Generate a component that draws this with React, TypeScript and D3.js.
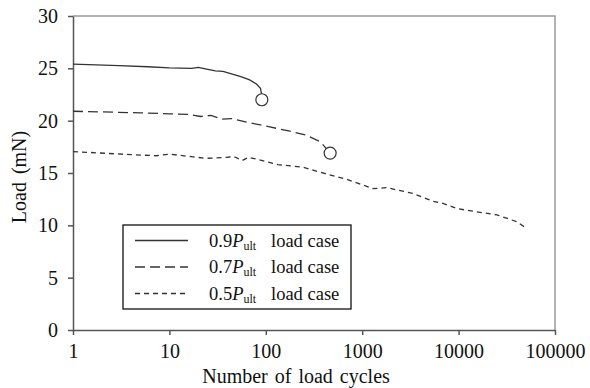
import React, { useEffect, useRef } from "react";
import * as d3 from "d3";

// Load vs. number of cycles for three load cases
const series90: [number, number][] = [
  [1, 25.4], [3, 25.25], [6, 25.15], [10, 25.05], [17, 25.0], [20, 25.1],
  [25, 24.9], [30, 24.75], [36, 24.7], [45, 24.45], [55, 24.2], [68, 23.9],
  [80, 23.5], [88, 23.1], [90, 22.6], [91, 22.0],
];
const series70: [number, number][] = [
  [1, 20.9], [5, 20.75], [10, 20.65], [16, 20.6], [21, 20.4], [27, 20.5],
  [35, 20.15], [44, 20.2], [68, 19.8], [110, 19.4], [178, 19.0], [265, 18.6],
  [365, 18.0], [410, 17.5], [465, 16.9],
];
const series50: [number, number][] = [
  [1, 17.05], [4, 16.75], [7.4, 16.65], [10, 16.8], [24, 16.4], [40, 16.5],
  [46, 16.6], [57, 16.2], [66, 16.5], [101, 16.1], [134, 15.8], [245, 15.55],
  [340, 15.15], [690, 14.4], [1300, 13.5], [1800, 13.6], [3350, 13.05],
  [5400, 12.3], [6900, 12.1], [9600, 11.6], [13000, 11.4], [25000, 11.0],
  [40000, 10.35], [50000, 9.75],
];
const failurePoints: [number, number][] = [[91, 22.0], [465, 16.9]];

const xTicks = [1, 10, 100, 1000, 10000, 100000];
const yTicks = [0, 5, 10, 15, 20, 25, 30];
const legendLabels = ["0.9", "0.7", "0.5"];

const W = 590;
const H = 388;
const M = { left: 73, right: 35, top: 16, bottom: 58 };
const FONT = "'Liberation Serif', 'Times New Roman', Times, serif";

export default function App() {
  const ref = useRef<SVGSVGElement>(null);

  useEffect(() => {
    const svg = d3.select(ref.current);
    svg.selectAll("*").remove();

    const x = d3.scaleLog().domain([1, 100000]).range([M.left, W - M.right]);
    const y = d3.scaleLinear().domain([0, 30]).range([H - M.bottom, M.top]);
    const ink = "#333";

    // frame: top and right in gray
    svg.append("path")
      .attr("d", `M${x(1)},${y(30)}H${x(100000)}V${y(0)}`)
      .attr("fill", "none").attr("stroke", "#999").attr("stroke-width", 1.5);

    // y axis
    const yAxis = svg.append("g").attr("transform", `translate(${x(1)},0)`)
      .call(d3.axisLeft(y).tickValues(yTicks).tickSize(5).tickSizeOuter(0).tickPadding(10));
    // x axis
    const xAxis = svg.append("g").attr("transform", `translate(0,${y(0)})`)
      .call(d3.axisBottom(x).tickValues(xTicks).tickFormat(d3.format("d")).tickSize(5).tickSizeOuter(0).tickPadding(9));
    [yAxis, xAxis].forEach((g) => {
      g.attr("font-family", FONT).attr("font-size", 20);
      g.select(".domain").attr("stroke", "#555").attr("stroke-width", 1.5);
      g.selectAll(".tick line").attr("stroke", "#555").attr("stroke-width", 1.5);
      g.selectAll(".tick text").attr("fill", "#111");
    });

    // axis titles
    svg.append("text")
      .attr("x", 296).attr("y", 383)
      .attr("text-anchor", "middle").attr("font-family", FONT).attr("font-size", 20)
      .attr("word-spacing", 2).attr("fill", "#111")
      .text("Number of load cycles");
    svg.append("text")
      .attr("transform", `translate(26,177) rotate(-90)`)
      .attr("text-anchor", "middle").attr("font-family", FONT).attr("font-size", 20)
      .attr("word-spacing", 3).attr("fill", "#111")
      .text("Load (mN)");

    const line = d3.line<[number, number]>().x((d) => x(d[0])).y((d) => y(d[1]));
    const dashes = [null, "10,5", "5,4"];
    [series90, series70, series50].forEach((s, i) => {
      svg.append("path").datum(s).attr("d", line)
        .attr("fill", "none").attr("stroke", ink).attr("stroke-width", 1.3)
        .attr("stroke-dasharray", dashes[i]);
    });

    svg.selectAll("circle.fail").data(failurePoints).join("circle")
      .attr("class", "fail")
      .attr("cx", (d) => x(d[0])).attr("cy", (d) => y(d[1])).attr("r", 6)
      .attr("fill", "white").attr("stroke", ink).attr("stroke-width", 1.2);

    // legend
    const lg = svg.append("g").attr("font-family", FONT).attr("fill", "#111");
    lg.append("rect").attr("x", 123).attr("y", 225).attr("width", 228).attr("height", 84)
      .attr("fill", "white").attr("stroke", "#111").attr("stroke-width", 1.3);
    legendLabels.forEach((lab, i) => {
      const yy = 240.5 + i * 26.5;
      lg.append("line").attr("x1", 135).attr("x2", 188).attr("y1", yy).attr("y2", yy)
        .attr("stroke", ink).attr("stroke-width", 1.3).attr("stroke-dasharray", dashes[i]);
      const t = lg.append("text").attr("x", 209).attr("y", yy + 6).attr("font-size", 18.5);
      t.append("tspan").text(lab);
      t.append("tspan").attr("font-style", "italic").text("P");
      t.append("tspan").attr("dy", 3).attr("font-size", 12).text("ult");
      t.append("tspan").attr("x", 271).attr("dy", -3).text("load case");
    });
  }, []);

  return <svg ref={ref} width={W} height={H} style={{ display: "block", position: "absolute", left: 0, top: 0 }} />;
}
